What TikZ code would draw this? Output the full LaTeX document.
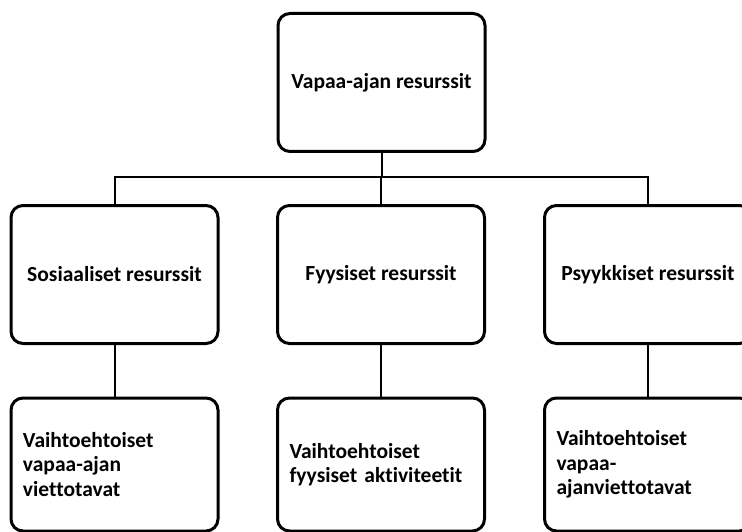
\documentclass[tikz,border=0pt]{standalone}
\usepackage{fontspec}
\setmainfont[Ligatures=NoCommon]{Carlito}
\begin{document}
\begin{tikzpicture}[x=1pt,y=-1pt,
  box/.style={draw=black, line width=3pt, rounded corners=12pt, fill=white,
    minimum width=207pt, minimum height=138pt, inner sep=0pt,
    font=\fontsize{21.5}{24.5}\selectfont\bfseries},
  leafbox/.style={box, minimum height=133pt, align=left, text width=183pt},
  link/.style={draw=black, line width=2pt}]
\useasboundingbox (0,0) rectangle (742,532);
\clip (0,0) rectangle (742,532);
\node[box] (top) at (381.5,82.5) {Vapaa-ajan resurssit};
\node[box] (ml) at (114.5,274.5) {Sosiaaliset resurssit};
\node[box] (mm) at (381,274.5) {Fyysiset resurssit};
\node[box] (mr) at (648,274.5) {Psyykkiset resurssit};
\node[leafbox] (bl) at (114.5,464.5) {Vaihtoehtoiset\\vapaa-ajan\\viettotavat};
\node[leafbox] (bm) at (381,464.5) {Vaihtoehtoiset\\fyysiset aktiviteetit};
\node[leafbox] (br) at (648,464.5) {Vaihtoehtoiset\\vapaa-\\ajanviettotavat};
\coordinate (bus) at (381.5,177);
\draw[link] (top.south) -- (bus);
\draw[link] (ml.north) |- (bus) -| (mr.north);
\draw[link] (mm.north) -- (mm.north |- bus);
\draw[link] (ml.south) -- (bl.north);
\draw[link] (mm.south) -- (bm.north);
\draw[link] (mr.south) -- (br.north);
\end{tikzpicture}
\end{document}
